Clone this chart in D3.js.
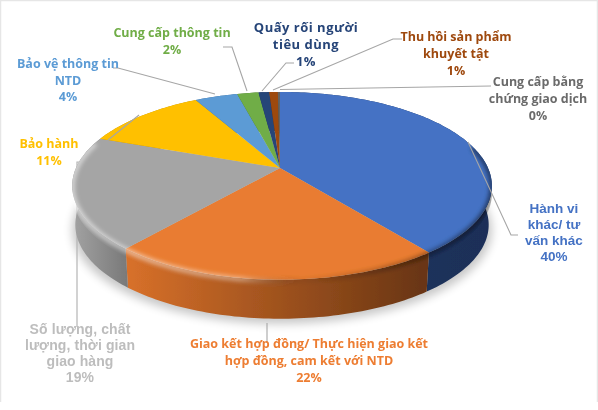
<!DOCTYPE html>
<html>
<head>
<meta charset="utf-8">
<script src="https://cdn.jsdelivr.net/npm/d3@7"></script>
<style>
html, body { margin: 0; padding: 0; background: #fff; overflow: hidden; }
#vis { display: block; }
</style>
</head>
<body>
<svg id="vis" width="598" height="410"></svg>
<script>
// chart data
var categories = ["Hành vi khác/ tư vấn khác", "Giao kết hợp đồng/ Thực hiện giao kết hợp đồng, cam kết với NTD",
    "Số lượng, chất lượng, thời gian giao hàng", "Bảo hành", "Bảo vệ thông tin NTD", "Cung cấp thông tin",
    "Quấy rối người tiêu dùng", "Thu hồi sản phẩm khuyết tật", "Cung cấp bằng chứng giao dịch"];
var values = [39.6, 21.6, 19.4, 11.4, 4, 2, 1, 0.8, 0.2];
var colors = ["#4472c4", "#e97c30", "#a5a5a5", "#ffc000", "#5b9bd5", "#70ad47", "#264478", "#9e480e", "#636363"];
var labelColors = ["#4472c4", "#ed7d31", "#bdbdbd", "#ffc000", "#5b9bd5", "#70ad47", "#264478", "#9e480e", "#6b6b6b"];

// how each label is broken over its lines
var labelLines = [
    ["Hành vi", "khác/ tư", "vấn khác"],
    ["Giao kết hợp đồng/ Thực hiện giao kết", "hợp đồng, cam kết với NTD"],
    ["Số lượng, chất", "lượng, thời gian", "giao hàng"],
    ["Bảo hành"],
    ["Bảo vệ thông tin", "NTD"],
    ["Cung cấp thông tin"],
    ["Quấy rối người", "tiêu dùng"],
    ["Thu hồi sản phẩm", "khuyết tật"],
    ["Cung cấp bằng", "chứng giao dịch"]
];

// label placement, separate from the data
var labelPos = [
    {x: 554, y: 213, dy: 16, size: 13.5, font: "Liberation Sans", spacing: 0},
    {x: 309, y: 348, dy: 17, size: 12.5, font: "Open Sans", spacing: 0},
    {x: 80, y: 334, dy: 16, size: 14, font: "Liberation Sans", spacing: 0.1},
    {x: 49, y: 148, dy: 17, size: 12.5, font: "Open Sans", spacing: 0},
    {x: 68, y: 68, dy: 16.5, size: 12.5, font: "Open Sans", spacing: 0},
    {x: 172, y: 37, dy: 17, size: 12.5, font: "Open Sans", spacing: 0},
    {x: 306, y: 32, dy: 17, size: 13, font: "Open Sans", spacing: 0.5},
    {x: 456, y: 41, dy: 17, size: 12.5, font: "Open Sans", spacing: 0},
    {x: 538, y: 86, dy: 17, size: 12.5, font: "Open Sans", spacing: 0}
];

// leader lines, [x,y] from pie to label
var leaders = [
    [[468, 142], [511, 235], [518, 235]],
    [[267, 323], [267, 343]],
    [[81, 162], [77, 162], [77, 327]],
    [[108, 140], [139, 115]],
    [[215, 94], [118, 68], [113, 68]],
    [[247, 91], [232, 47], [223, 47]],
    [[262, 91], [286, 63], [294, 63]],
    [[273, 90], [393, 39], [402, 39]],
    [[280, 89.5], [491, 86]]
];

// side wall shading, left to right over the pie width
var sideStops = [
    ["#22396a", "#1b2f58"],
    ["#d9712a", "#6a3613"],
    ["#a0a0a0", "#7a7a7a"],
    ["#c79500", "#8a6800"],
    ["#3f6f9c", "#2f5680"],
    ["#4f7a32", "#3c5f26"],
    ["#1a3055", "#1a3055"],
    ["#6e320a", "#6e320a"],
    ["#444444", "#444444"]
];

var cx = 280, cy = 168, rxLeft = 204, rxRight = 208, ry = 90.5, persp = 0.19, depth = 39, shrink = 0.985;

var svg = d3.select("#vis");
var defs = svg.append("defs");

defs.append("filter").attr("id", "soft")
    .attr("x", "-5%").attr("y", "-5%").attr("width", "110%").attr("height", "110%")
    .append("feGaussianBlur").attr("stdDeviation", 0.4);
defs.append("filter").attr("id", "shadow")
    .attr("x", "-20%").attr("y", "-20%").attr("width", "140%").attr("height", "140%")
    .append("feGaussianBlur").attr("stdDeviation", 5);
defs.append("filter").attr("id", "rim")
    .attr("x", "-20%").attr("y", "-20%").attr("width", "140%").attr("height", "140%")
    .append("feGaussianBlur").attr("stdDeviation", 2);

sideStops.forEach(function (s, i) {
    var g = defs.append("linearGradient").attr("id", "side" + i)
        .attr("gradientUnits", "userSpaceOnUse")
        .attr("x1", i == 1 ? 124 : cx - rxLeft).attr("x2", i == 1 ? 420 : i == 2 ? 126 : cx + rxRight)
        .attr("y1", 0).attr("y2", 0);
    g.append("stop").attr("offset", 0).attr("stop-color", s[0]);
    g.append("stop").attr("offset", 1).attr("stop-color", s[1]);
});

var rimGrad = defs.append("linearGradient").attr("id", "rimGrad")
    .attr("gradientUnits", "userSpaceOnUse")
    .attr("x1", cx - rxLeft).attr("x2", cx + rxRight).attr("y1", 0).attr("y2", 0);
[[0, "#ffffff", 0.55], [0.4, "#ffffff", 0.4], [0.55, "#000000", 0.05], [1, "#000000", 0.5]].forEach(function (s) {
    rimGrad.append("stop").attr("offset", s[0]).attr("stop-color", s[1]).attr("stop-opacity", s[2]);
});

// the top face is a circle seen in perspective, nearer edge looks larger
function project(a) {
    var u = Math.sin(a), v = Math.cos(a), d = 1 + persp * v;
    return [cx + (u > 0 ? rxRight : rxLeft) * u / d, cy - ry * v / d];
}

function arcPoints(a0, a1) {
    var n = Math.max(2, Math.ceil((a1 - a0) / 0.02));
    return d3.range(n + 1).map(function (i) {
        return project(a0 + (a1 - a0) * i / n);
    });
}

// lower ring of the wall, a little narrower because it is further away
function lowerRing(p) {
    return [cx + (p[0] - cx) * shrink, p[1] + depth];
}

var line = d3.line();
var pie = d3.pie().sort(null).value(function (d) { return d; });
var slices = pie(values);

function sidePath(d) {
    var top = arcPoints(d.startAngle, d.endAngle);
    var bottom = top.map(lowerRing).reverse();
    return line(top.concat(bottom)) + "Z";
}

var root = svg.append("g").attr("filter", "url(#soft)");

root.append("rect").attr("width", 598).attr("height", 410).attr("fill", "#fff");

// faint frame round the picture
root.append("path").attr("d", "M0.5,402V0.5H597.5V402")
    .attr("fill", "none").attr("stroke", "#e6e6e6").attr("stroke-width", 1.5);

// drop shadow under the pie
root.append("path")
    .attr("d", line(arcPoints(0, 2 * Math.PI).map(function (p) { return [p[0], p[1] + depth + 5]; })) + "Z")
    .attr("fill", "#000").attr("opacity", 0.22).attr("filter", "url(#shadow)");

// the grey label's leader runs behind the pie
root.selectAll(".leader-back").data(leaders.filter(function (l, i) { return i == 2; })).enter()
    .append("path").attr("class", "leader-back")
    .attr("d", line).attr("fill", "none").attr("stroke", "#b5b5b5").attr("stroke-width", 1.2);

root.selectAll(".side").data(slices).enter().append("path")
    .attr("class", "side")
    .attr("d", sidePath)
    .attr("fill", function (d, i) { return "url(#side" + i + ")"; });

root.selectAll(".top").data(slices).enter().append("path")
    .attr("class", "top")
    .attr("d", function (d) {
        return line([[cx, cy]].concat(arcPoints(d.startAngle, d.endAngle))) + "Z";
    })
    .attr("fill", function (d, i) { return colors[i]; });

// bevel along the front edge, light on the left and dark on the right
var topClip = defs.append("clipPath").attr("id", "topClip");
topClip.append("path").attr("d", line(arcPoints(0, 2 * Math.PI)) + "Z");
topClip.append("path").attr("d", line(arcPoints(Math.PI / 2 + 0.1, 3 * Math.PI / 2 + 0.3).map(function (p) {
    return [p[0], p[1] + 8];
})) + "Z");
root.append("g").attr("clip-path", "url(#topClip)")
    .append("path")
    .attr("d", line(arcPoints(Math.PI / 2 - 0.25, 3 * Math.PI / 2 + 0.3).map(function (p) { return [p[0], p[1] + 1]; })))
    .attr("fill", "none").attr("stroke", "url(#rimGrad)").attr("stroke-width", 5).attr("filter", "url(#rim)");

// leader lines
root.selectAll(".leader").data(leaders.filter(function (l, i) { return i != 2; })).enter()
    .append("path").attr("class", "leader")
    .attr("d", line).attr("fill", "none").attr("stroke", "#a6a6a6").attr("stroke-width", 1.1);

// labels
var labels = root.selectAll(".label").data(slices).enter().append("text")
    .attr("class", "label")
    .attr("text-anchor", "middle")
    .attr("font-weight", "bold")
    .attr("font-family", function (d, i) { return labelPos[i].font + ", sans-serif"; })
    .attr("font-size", function (d, i) { return labelPos[i].size; })
    .attr("letter-spacing", function (d, i) { return labelPos[i].spacing; })
    .attr("fill", function (d, i) { return labelColors[i]; });

labels.each(function (d, i) {
    var p = labelPos[i];
    var rows = labelLines[i].concat([d3.format(".0f")(d.value) + "%"]);
    d3.select(this).selectAll("tspan").data(rows).enter().append("tspan")
        .attr("x", p.x)
        .attr("y", function (r, j) { return p.y + j * p.dy; })
        .text(function (r) { return r; });
});
</script>
</body>
</html>
